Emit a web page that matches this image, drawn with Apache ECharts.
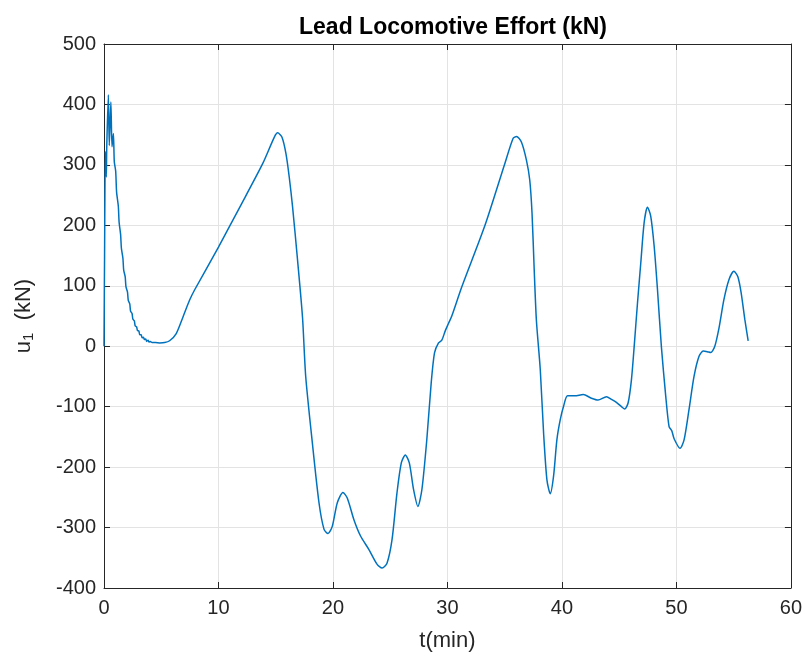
<!DOCTYPE html>
<html>
<head>
<meta charset="utf-8">
<script src="https://cdn.jsdelivr.net/npm/echarts@6/dist/echarts.min.js"></script>
<style>
html, body { margin: 0; padding: 0; background: #fff; }
#main { width: 805px; height: 657px; }
</style>
</head>
<body>
<div id="main"></div>
<script>
// t (min)
var tMin = [
    0, 0.05, 0.12, 0.2, 0.24, 0.38, 0.46, 0.6, 0.7, 0.82, 0.9, 1.02, 1.1, 1.25, 1.32,
    1.45, 1.52, 1.65, 1.72, 1.85, 1.92, 2.05, 2.12, 2.25, 2.32, 2.45, 2.52, 2.65, 2.72,
    2.85, 2.92, 3.05, 3.12, 3.25, 3.32, 3.45, 3.52, 3.65, 3.72, 3.85, 3.92, 4.05, 4.2,
    4.5, 4.86, 5.3, 5.73, 6.31, 6.9, 7.47, 7.91, 10, 11.83, 13.86, 14.88, 15.17, 15.54,
    15.89, 16.18, 16.47, 16.91, 17.34, 17.62, 18.2, 18.78, 19.22, 19.57, 19.94, 20.38,
    20.87, 21.25, 21.83, 22.41, 23.13, 23.86, 24.29, 24.72, 25.16, 25.59, 25.97, 26.32,
    26.67, 27.04, 27.42, 27.77, 28.2, 28.58, 28.87, 29.22, 29.51, 29.8, 30.09, 30.38,
    31.25, 33.28, 35.01, 35.74, 36.03, 36.46, 36.9, 37.19, 37.39, 37.57, 37.77, 38.11,
    38.4, 38.69, 38.98, 39.27, 39.56, 39.85, 40.15, 40.49, 41.13, 41.86, 42.58, 43.16,
    43.89, 44.33, 44.76, 45.2, 45.49, 45.78, 46.07, 46.31, 46.6, 46.89, 47.18, 47.47,
    47.76, 48.06, 48.35, 48.69, 49.07, 49.36, 49.6, 49.8, 50.32, 50.67, 51.1, 51.54,
    51.97, 52.35, 52.7, 52.99, 53.34, 53.72, 54.15, 54.59, 55.02, 55.37, 55.66, 55.98,
    56.27
];
// u1 (kN)
var u1 = [
    0, 150, 322, 280, 330, 416, 332, 404, 330, 352, 305, 290, 255, 232, 205,
    185, 162, 146, 126, 115, 98, 90, 76, 70, 58, 54, 45, 42, 34,
    32, 26, 25, 19, 19, 14, 15, 11, 12, 8, 10, 7, 8, 6,
    6, 5.5, 6, 9, 21, 48.5, 76, 93, 164, 229, 302, 346, 353, 346,
    319, 280, 231, 142, 48, -50, -160, -259, -303, -310, -298, -259,
    -242, -251, -287, -314, -336, -361, -367, -359, -320, -243, -193, -180,
    -193, -237, -265, -237, -154, -61, -11, 5.5, 10, 25, 37.5, 50,
    98, 200, 302, 344, 347, 338, 308, 275, 220, 131, 43, -39,
    -144, -221, -244, -215, -155, -122, -99, -82, -82, -80, -86, -89,
    -83.5, -88, -93, -100, -104, -94, -56, -1, 71, 138, 204, 230,
    215, 165, 93, -1, -83, -133, -140, -153, -169, -155, -105, -50,
    -17, -8, -9, -10.5, -1, 30, 77, 110, 124, 115, 88, 44,
    9
];
var xTicks = [0, 10, 20, 30, 40, 50, 60];
var yTicks = [-400, -300, -200, -100, 0, 100, 200, 300, 400, 500];

var pts = tMin.map(function (t, i) { return [t, u1[i]]; });

var axisColor = '#262626';
var font = 'Liberation Sans, Arial, sans-serif';

// box axes (top / right) only carry the inward ticks
function boxAxis(extra) {
    var a = {
        type: 'value',
        axisLine: { show: true, onZero: false, lineStyle: { color: axisColor, width: 1 } },
        axisTick: { show: true, inside: true, length: 6, lineStyle: { color: axisColor } },
        axisLabel: { show: false },
        splitLine: { show: false }
    };
    for (var k in extra) a[k] = extra[k];
    return a;
}

var myChart = echarts.init(document.getElementById('main'));
var option = {
    backgroundColor: '#fff',
    animation: false,
    title: {
        text: 'Lead Locomotive Effort (kN)',
        left: 448, top: 11, textAlign: 'center',
        textStyle: { fontFamily: font, fontSize: 23, fontWeight: 'bold', color: '#000' }
    },
    grid: { left: 104, right: 12, top: 44, bottom: 68 },
    xAxis: [{
        type: 'value', min: xTicks[0], max: xTicks[xTicks.length - 1], interval: 10,
        name: 't(min)', nameLocation: 'middle', nameGap: 42,
        nameTextStyle: { fontFamily: font, fontSize: 22, color: axisColor },
        axisLine: { onZero: false, lineStyle: { color: axisColor, width: 1 } },
        axisTick: { inside: true, length: 6, lineStyle: { color: axisColor } },
        axisLabel: { margin: 10, fontFamily: font, fontSize: 20, color: axisColor },
        splitLine: { show: true, lineStyle: { color: '#e3e3e3', width: 1 } }
    }, boxAxis({ position: 'top', min: 0, max: 60, interval: 10 })],
    yAxis: [{
        type: 'value', min: yTicks[0], max: yTicks[yTicks.length - 1], interval: 100,
        name: 'u{sub|1}  (kN)', nameLocation: 'middle', nameGap: 68, nameRotate: 90,
        nameTextStyle: {
            fontFamily: font, fontSize: 22, color: axisColor,
            rich: { sub: { fontFamily: font, fontSize: 15, color: axisColor, verticalAlign: 'bottom', padding: [10, 0, 0, 0] } }
        },
        axisLine: { show: true, onZero: false, lineStyle: { color: axisColor, width: 1 } },
        axisTick: { show: true, inside: true, length: 6, lineStyle: { color: axisColor } },
        axisLabel: { margin: 8, fontFamily: font, fontSize: 20, color: axisColor },
        splitLine: { show: true, lineStyle: { color: '#e3e3e3', width: 1 } }
    }, boxAxis({ position: 'right', min: -400, max: 500, interval: 100 })],
    series: [{
        type: 'line', data: pts, showSymbol: false, smooth: 0.25,
        lineStyle: { color: '#0072BD', width: 1.5 },
        z: 3
    }]
};
myChart.setOption(option);
</script>
</body>
</html>
